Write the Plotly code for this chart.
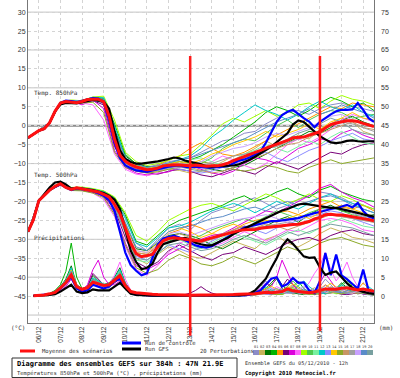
import plotly.graph_objects as go

# ---------------- time axes (hours from 05/12/2010 12h) ----------------
H6 = list(range(0, 385, 6))      # control / GFS / mean temperatures
H12 = list(range(0, 385, 12))    # perturbation temperatures
HP6 = list(range(6, 385, 6))     # precipitation series

DATE_LABELS = ["06/12", "07/12", "08/12", "09/12", "10/12", "11/12", "12/12", "13/12",
               "14/12", "15/12", "16/12", "17/12", "18/12", "19/12", "20/12", "21/12"]
DATE_HOURS = [12 + 24 * k for k in range(len(DATE_LABELS))]
MARK_HOURS = [180, 324]   # red vertical markers

# ---------------- 850 hPa ----------------
T850_MEAN = [-3.2,-2.3,-1.3,-0.8,0.8,3.8,6.0,6.4,6.3,6.1,6.4,6.9,7.0,7.0,6.3,
             2.5,-3.5,-7.8,-9.4,-10.3,-10.9,-11.3,-11.6,-11.5,-11.2,-10.6,-10.4,-10.3,-10.4,-10.5,-10.6,
             -10.4,-10.6,-10.7,-10.6,-10.6,-10.3,-9.9,-9.2,-8.7,-8.2,-7.6,-7.0,-6.5,-5.9,-5.4,-5.0,
             -4.4,-3.9,-3.2,-3.0,-3.0,-2.5,-2.1,-1.6,-0.6,0.3,0.7,1.0,1.3,1.3,1.1,0.6,0.2,-0.2]
T850_GFS = [-3.2,-2.3,-1.3,-0.8,0.8,3.8,5.6,6.0,5.9,5.9,6.2,6.6,6.8,6.6,6.4,
            4.5,-1.5,-6.5,-8.8,-9.6,-10.0,-10.0,-9.7,-9.6,-9.4,-9.2,-8.8,-8.4,-8.6,-9.2,-9.5,
            -9.7,-10.2,-10.7,-10.8,-10.7,-10.6,-10.5,-10.5,-10.2,-9.7,-9.0,-8.2,-7.2,-6.4,-5.5,-4.4,
            -3.2,-2.0,0.3,1.4,1.0,-0.2,-1.6,-2.8,-3.6,-4.4,-4.6,-4.4,-4.0,-3.9,-4.1,-4.2,-4.1,-4.1]
T850_CTRL = [-3.2,-2.3,-1.3,-0.8,0.8,3.8,6.0,6.6,6.5,6.2,6.5,7.0,7.3,7.2,6.0,
             1.5,-4.5,-8.5,-10.5,-11.2,-11.8,-12.0,-12.2,-11.8,-11.4,-11.0,-10.8,-10.6,-10.5,-10.8,-11.0,
             -10.8,-11.0,-11.1,-11.1,-11.0,-10.8,-10.7,-9.9,-9.2,-8.9,-8.4,-7.6,-6.8,-4.5,-1.8,1.0,
             2.8,3.7,4.2,3.0,2.0,1.1,-0.4,1.0,2.1,3.0,3.8,4.2,4.2,4.3,6.0,4.2,2.0,1.0]
T850_MEMBERS = [
    [-3.2,-1.2,0.9,5.8,6.6,6.2,7.3,6.8,-2.0,-9.0,-10.5,-11.0,-10.2,-9.5,-9.0,-8.5,-7.0,-5.5,-4.0,-3.5,-2.0,-1.5,0.5,2.0,3.5,4.0,3.0,4.5,5.5,6.0,5.0,4.5,3.8],
    [-3.1,-1.4,0.7,6.2,6.0,6.8,6.6,6.0,-4.5,-10.0,-11.5,-12.2,-12.0,-11.5,-11.8,-12.5,-12.0,-11.0,-9.5,-8.0,-7.5,-6.0,-4.0,-5.5,-4.0,-2.5,-3.5,-1.0,0.5,2.0,1.0,-1.5,-2.5],
    [-3.3,-1.2,0.9,6.1,6.4,6.0,7.2,6.9,-1.0,-8.0,-10.0,-10.8,-11.0,-10.0,-9.5,-9.8,-10.5,-11.5,-12.0,-11.0,-10.5,-9.0,-7.5,-6.0,-4.5,-3.0,-1.5,-2.0,-0.5,1.5,2.5,1.0,0.0],
    [-3.2,-1.3,0.8,5.9,6.5,6.6,7.5,7.2,0.5,-7.5,-10.2,-11.2,-11.5,-11.0,-10.2,-9.0,-8.0,-6.5,-5.0,-3.0,-1.0,1.0,3.5,5.0,4.0,2.5,4.0,6.0,7.5,6.5,5.0,6.0,4.0],
    [-3.2,-1.3,0.8,6.0,6.4,6.6,6.8,6.4,-3.0,-9.5,-10.8,-11.2,-10.5,-9.0,-8.0,-6.0,-4.5,-6.0,-7.5,-8.0,-7.0,-5.5,-4.0,-2.5,-1.0,0.5,2.0,3.5,5.0,4.5,6.0,5.5,5.0],
    [-3.2,-1.4,0.8,6.0,6.0,6.2,6.6,5.5,-5.5,-10.5,-12.0,-12.5,-12.8,-12.0,-11.5,-12.0,-13.0,-13.5,-12.5,-11.5,-12.0,-12.8,-11.0,-9.5,-10.5,-11.5,-10.0,-8.5,-7.0,-7.5,-6.0,-5.0,-4.5],
    [-3.2,-1.2,0.9,6.2,6.5,5.5,6.8,4.5,-6.5,-11.0,-12.5,-13.0,-12.6,-12.2,-11.0,-10.5,-11.5,-12.5,-13.0,-12.0,-10.0,-8.5,-9.0,-10.0,-8.0,-6.0,-5.0,-3.5,-4.0,-2.0,-1.0,-2.5,-3.5],
    [-3.2,-1.3,0.8,5.8,6.2,6.0,5.5,1.5,-7.5,-11.5,-12.8,-13.2,-12.5,-11.0,-10.0,-10.5,-11.0,-9.5,-8.0,-9.0,-10.5,-11.5,-10.0,-7.5,-5.0,-3.5,-4.5,-3.0,-1.0,1.5,3.0,2.0,1.0],
    [-3.2,-1.3,0.8,6.3,6.8,6.6,7.6,7.8,1.5,-7.0,-9.5,-10.5,-10.0,-9.2,-8.0,-7.5,-5.0,-2.5,0.5,2.0,1.0,2.5,4.0,2.5,3.5,5.5,6.0,4.5,6.5,8.0,7.0,6.5,5.5],
    [-3.2,-1.3,0.8,6.0,6.5,6.5,7.1,6.5,-2.5,-9.2,-10.8,-11.5,-11.2,-10.6,-10.8,-11.2,-10.0,-8.5,-6.0,-4.5,-3.5,-4.0,-2.0,0.0,1.5,-0.5,1.5,3.0,4.0,3.5,2.0,2.5,3.0],
    [-3.2,-1.3,0.8,6.1,6.3,6.4,6.9,6.2,-4.0,-9.8,-11.0,-11.8,-11.5,-10.8,-10.2,-9.0,-8.5,-9.5,-10.5,-9.0,-7.5,-6.5,-5.0,-6.0,-7.0,-5.5,-4.0,-5.0,-3.0,-1.5,-3.0,-4.5,-5.0],
    [-3.2,-1.2,0.9,6.1,6.5,6.7,7.5,7.4,0.0,-8.5,-10.5,-11.0,-10.8,-10.0,-9.0,-8.0,-6.0,-3.0,-1.0,1.5,3.5,5.5,4.0,3.0,1.5,3.0,5.0,6.5,5.0,4.0,5.5,3.5,2.5],
    [-3.2,-1.3,0.8,6.0,6.2,6.2,6.7,6.0,-4.5,-10.2,-11.5,-12.0,-11.8,-11.2,-11.5,-12.0,-12.5,-12.0,-11.0,-10.0,-9.0,-8.0,-7.0,-8.5,-9.5,-8.0,-6.5,-5.5,-4.0,-3.0,-2.0,-3.5,-4.0],
    [-3.2,-1.3,0.8,5.9,6.3,6.5,7.0,6.6,-3.0,-9.0,-10.5,-11.2,-10.8,-10.0,-9.5,-10.0,-9.0,-7.5,-6.5,-5.0,-4.0,-3.0,-1.5,-3.0,-2.0,-1.0,0.5,-1.0,1.0,2.0,3.5,2.0,1.5],
    [-3.2,-1.3,0.8,6.0,6.1,6.0,6.2,3.5,-7.0,-11.0,-12.0,-12.5,-12.2,-11.5,-11.0,-10.5,-9.5,-10.0,-11.0,-11.5,-12.0,-11.5,-10.5,-11.0,-12.0,-12.5,-11.0,-10.0,-9.0,-10.0,-9.5,-9.0,-8.5],
    [-3.2,-1.3,0.8,6.0,6.4,6.3,6.9,6.3,-3.5,-9.4,-11.0,-11.6,-11.0,-10.2,-10.5,-11.0,-11.8,-12.5,-12.0,-11.0,-9.5,-8.5,-7.5,-6.0,-5.0,-4.5,-3.0,-2.0,-1.0,0.0,1.0,-0.5,-1.0],
    [-3.2,-1.3,0.8,6.0,6.3,6.5,7.0,6.5,-3.0,-9.2,-10.8,-11.4,-11.2,-10.5,-10.0,-10.2,-10.5,-10.0,-9.0,-8.0,-7.5,-7.0,-6.0,-5.5,-4.5,-3.5,-2.5,-1.5,0.0,1.0,0.5,-0.5,-1.5],
    [-3.2,-1.3,0.8,6.0,6.2,6.4,7.1,6.4,-4.0,-10.0,-11.2,-12.0,-11.6,-11.0,-11.2,-10.8,-9.5,-8.0,-7.0,-6.0,-5.5,-4.5,-3.0,-2.0,-2.5,-1.5,-0.5,1.0,2.5,3.0,1.5,0.5,0.0],
    [-3.2,-1.3,0.8,6.0,6.5,6.6,7.2,7.0,-1.5,-8.5,-10.2,-11.0,-10.6,-9.8,-9.0,-8.5,-7.5,-6.5,-5.5,-4.5,-3.5,-2.0,-0.5,1.0,2.0,3.0,4.5,3.0,4.0,5.5,4.5,3.5,2.0],
    [-3.2,-1.3,0.8,6.0,6.3,6.3,6.8,6.1,-4.5,-10.0,-11.4,-12.0,-11.8,-11.0,-10.8,-11.5,-12.0,-11.5,-10.0,-9.5,-8.5,-7.5,-6.5,-5.0,-3.5,-2.0,-1.0,0.5,2.0,1.0,-1.0,-2.0,-2.5],
]

# ---------------- 500 hPa ----------------
T500_MEAN = [-28.0,-24.8,-19.8,-18.3,-17.0,-16.0,-15.3,-16.3,-16.8,-16.4,-16.7,-16.9,-17.2,-17.5,-18.1,
             -18.8,-20.8,-23.2,-27.0,-31.0,-33.8,-34.6,-34.3,-34.0,-32.0,-30.4,-29.8,-29.6,-29.8,-30.0,-30.1,
             -30.4,-30.5,-30.0,-29.6,-29.2,-28.9,-28.6,-28.0,-27.7,-27.5,-27.4,-27.4,-27.1,-26.9,-26.7,-26.5,
             -26.4,-26.2,-26.1,-26.0,-25.7,-25.3,-24.6,-24.2,-23.5,-23.4,-23.6,-23.6,-23.8,-24.0,-24.2,-24.5,-24.8,-25.1]
T500_GFS = [-28.0,-24.8,-19.8,-18.0,-16.3,-15.0,-14.8,-15.5,-16.6,-16.4,-16.5,-16.8,-17.0,-17.3,-17.8,
            -18.5,-19.5,-22.0,-27.5,-33.0,-36.0,-37.9,-37.5,-36.5,-33.4,-31.3,-30.8,-30.4,-30.0,-29.6,-30.0,
            -30.9,-31.3,-31.6,-31.6,-30.9,-30.3,-29.6,-28.6,-27.8,-27.2,-26.5,-25.8,-25.2,-24.4,-23.7,-23.0,
            -22.4,-22.0,-21.3,-20.8,-20.6,-20.8,-21.1,-21.3,-21.5,-21.7,-21.7,-22.0,-22.3,-22.6,-23.0,-23.4,-23.7,-24.0]
T500_CTRL = [-28.0,-24.8,-19.8,-18.3,-17.0,-16.2,-15.5,-16.3,-17.0,-16.5,-16.8,-17.0,-17.3,-17.8,-18.5,
             -19.6,-22.5,-28.0,-33.5,-36.8,-38.3,-39.5,-39.0,-35.0,-31.3,-29.8,-29.3,-29.0,-29.5,-30.2,-30.8,
             -31.6,-32.0,-32.2,-31.8,-31.0,-30.2,-29.4,-28.7,-27.8,-26.9,-26.6,-26.3,-26.0,-25.5,-25.2,-25.2,
             -25.0,-24.7,-24.6,-24.4,-23.9,-23.4,-23.1,-22.8,-22.3,-22.0,-21.8,-21.3,-20.9,-21.6,-20.4,-22.5,-23.9,-24.5]
T500_MEMBERS = [
    [-28.0,-19.6,-16.8,-15.0,-16.5,-16.3,-16.8,-17.5,-19.5,-24.0,-31.0,-33.0,-30.0,-27.0,-26.0,-27.5,-25.0,-23.0,-22.0,-21.5,-20.0,-19.0,-20.5,-22.0,-21.0,-19.5,-18.5,-17.5,-18.0,-19.0,-20.5,-21.0,-22.0],
    [-28.0,-19.9,-17.2,-15.5,-17.0,-17.0,-17.5,-18.5,-21.5,-28.0,-35.0,-36.5,-34.0,-32.0,-33.0,-34.5,-35.0,-33.5,-32.0,-30.5,-31.5,-32.5,-30.0,-29.0,-31.0,-32.0,-30.5,-28.5,-27.0,-28.0,-29.5,-30.0,-31.0],
    [-28.0,-19.8,-17.0,-15.3,-16.6,-16.5,-17.0,-17.8,-20.0,-26.0,-32.5,-33.0,-31.0,-29.0,-28.5,-29.0,-30.0,-31.5,-32.5,-31.0,-29.5,-28.0,-26.5,-25.0,-24.0,-25.5,-23.5,-22.0,-21.0,-22.5,-23.0,-24.0,-23.5],
    [-28.0,-19.7,-16.9,-15.1,-16.4,-16.6,-16.9,-17.3,-19.0,-23.5,-30.5,-31.5,-29.0,-26.5,-25.0,-24.0,-23.0,-22.0,-21.0,-19.5,-18.5,-20.0,-19.0,-17.5,-16.5,-18.0,-19.0,-17.0,-16.0,-17.5,-18.5,-19.5,-20.0],
    [-28.0,-19.8,-17.0,-15.4,-16.8,-16.8,-17.3,-18.0,-20.5,-27.0,-33.5,-34.0,-31.5,-28.5,-27.5,-26.0,-27.0,-28.5,-29.0,-27.5,-26.0,-25.0,-24.5,-23.0,-22.5,-23.5,-22.0,-21.0,-20.0,-21.5,-22.0,-21.0,-22.5],
    [-28.0,-19.9,-17.1,-15.6,-17.0,-17.1,-17.6,-18.6,-22.0,-29.5,-36.0,-37.5,-36.0,-33.0,-31.5,-33.0,-34.5,-35.5,-34.0,-33.5,-32.0,-33.0,-34.0,-32.5,-31.0,-30.0,-29.5,-30.5,-29.0,-28.0,-27.5,-28.5,-29.0],
    [-28.0,-19.8,-17.0,-15.4,-16.9,-17.0,-17.4,-18.8,-23.0,-31.0,-37.0,-38.0,-36.5,-34.0,-32.5,-31.0,-30.0,-29.0,-28.5,-27.0,-25.5,-24.0,-22.5,-23.0,-21.5,-20.0,-18.5,-16.5,-15.5,-17.5,-19.0,-20.0,-21.5],
    [-28.0,-19.7,-16.9,-15.2,-16.7,-16.9,-17.8,-19.5,-24.0,-32.0,-38.0,-39.5,-37.0,-33.5,-31.0,-30.0,-31.5,-32.0,-31.0,-29.5,-28.0,-29.0,-30.5,-29.0,-27.5,-28.0,-26.5,-25.0,-24.5,-25.0,-26.0,-27.5,-28.0],
    [-28.0,-19.6,-16.7,-14.9,-16.3,-16.2,-16.6,-17.2,-18.8,-23.0,-29.0,-30.5,-28.0,-25.0,-23.5,-22.0,-21.0,-20.5,-21.5,-22.5,-21.0,-19.5,-18.0,-19.0,-20.5,-19.5,-18.0,-19.5,-20.0,-18.5,-19.5,-21.0,-22.0],
    [-28.0,-19.8,-17.0,-15.3,-16.8,-16.7,-17.1,-18.0,-20.6,-27.0,-34.0,-34.5,-32.5,-30.5,-29.5,-30.0,-29.0,-27.5,-26.5,-25.5,-24.5,-25.5,-24.0,-22.5,-23.5,-24.5,-23.0,-22.0,-21.5,-22.5,-23.5,-24.0,-25.0],
    [-28.0,-19.9,-17.1,-15.5,-16.9,-16.9,-17.4,-18.3,-21.0,-28.5,-35.5,-36.0,-34.0,-31.0,-30.0,-31.5,-32.5,-31.0,-29.5,-28.5,-29.5,-30.5,-31.5,-30.0,-28.5,-27.5,-28.5,-27.0,-25.5,-24.5,-25.5,-26.5,-27.0],
    [-28.0,-19.6,-16.8,-15.0,-16.4,-16.4,-16.8,-17.4,-19.2,-24.5,-31.0,-32.0,-29.5,-27.0,-26.5,-25.5,-24.0,-22.5,-21.5,-20.5,-21.5,-23.0,-21.5,-20.0,-21.0,-22.0,-20.5,-19.0,-18.0,-19.5,-20.5,-22.0,-23.0],
    [-28.0,-19.8,-17.0,-15.3,-16.8,-16.8,-17.3,-18.2,-20.8,-27.5,-34.5,-35.5,-33.5,-31.5,-32.5,-33.5,-32.0,-30.5,-29.0,-27.5,-26.5,-27.5,-28.5,-27.0,-26.0,-25.0,-24.0,-23.5,-22.5,-23.0,-24.5,-25.5,-26.5],
    [-28.0,-19.7,-16.9,-15.2,-16.6,-16.6,-17.0,-17.7,-20.0,-26.0,-33.0,-33.5,-31.0,-28.0,-27.0,-28.0,-29.5,-28.5,-27.0,-26.0,-27.0,-26.0,-25.0,-25.5,-24.5,-23.5,-24.5,-23.0,-22.0,-21.0,-22.0,-23.0,-24.0],
    [-28.0,-19.9,-17.2,-15.6,-17.1,-17.2,-17.8,-19.0,-23.5,-31.5,-37.5,-39.0,-38.0,-35.5,-34.0,-35.0,-36.5,-37.0,-36.0,-34.5,-35.5,-36.5,-35.0,-33.5,-32.0,-33.0,-32.5,-31.0,-30.0,-29.5,-30.5,-31.5,-32.0],
    [-28.0,-19.8,-17.0,-15.4,-16.9,-16.8,-17.2,-18.1,-20.5,-27.0,-33.5,-34.0,-32.0,-29.5,-28.5,-29.5,-30.5,-29.5,-28.5,-27.5,-26.5,-27.0,-26.0,-26.5,-27.5,-26.5,-25.5,-24.5,-23.5,-24.0,-24.5,-25.0,-25.5],
    [-28.0,-19.8,-17.0,-15.3,-16.8,-16.7,-17.2,-18.0,-20.7,-27.2,-34.0,-34.8,-32.5,-30.0,-29.5,-30.5,-31.0,-30.0,-29.0,-28.0,-27.5,-27.0,-26.5,-26.0,-25.5,-26.0,-25.0,-24.0,-23.5,-24.0,-24.5,-25.0,-25.5],
    [-28.0,-19.8,-17.0,-15.3,-16.7,-16.7,-17.1,-17.9,-20.4,-26.5,-33.0,-33.5,-31.5,-28.5,-28.0,-29.0,-28.0,-27.0,-26.0,-25.0,-24.5,-24.0,-23.5,-24.5,-25.5,-24.5,-23.5,-22.5,-21.5,-22.0,-23.0,-24.0,-24.5],
    [-28.0,-19.7,-16.9,-15.2,-16.6,-16.5,-17.0,-17.6,-19.8,-25.5,-32.0,-33.0,-30.5,-28.0,-27.0,-26.5,-25.5,-24.5,-24.0,-23.0,-22.0,-21.5,-22.5,-21.0,-20.0,-21.0,-20.0,-19.0,-18.5,-19.5,-21.0,-22.0,-23.0],
    [-28.0,-19.9,-17.1,-15.4,-16.9,-16.9,-17.4,-18.4,-21.5,-28.5,-35.0,-35.5,-33.5,-31.5,-31.0,-32.0,-33.0,-32.5,-31.5,-30.0,-29.0,-30.0,-31.0,-29.5,-28.0,-29.0,-28.0,-27.0,-26.0,-26.5,-27.0,-28.0,-29.0],
]

# ---------------- precipitation (mm, right axis) ----------------
PR_MEAN = [0.1,0.2,0.3,0.6,1.0,2.2,3.6,5.6,2.5,1.8, 2.2,3.7,3.2,2.8,3.0,4.2,5.4,2.8,1.2,0.9,
           0.7,0.6,0.5,0.4,0.4,0.3,0.3,0.3,0.3,0.2, 0.3,0.3,0.3,0.3,0.4,0.4,0.4,0.4,0.5,0.5,
           0.5,0.6,0.8,1.0,0.9,1.0,1.2,1.9,1.4,1.2, 1.0,0.9,1.1,1.4,1.9,1.8,1.8,2.1,2.2,1.9, 1.6,1.9,1.6,1.3]
PR_GFS = [0.1,0.1,0.2,0.3,0.5,1.2,2.2,3.0,1.2,0.8, 1.0,1.8,1.5,1.5,1.5,2.5,3.5,2.0,0.6,0.3,
          0.2,0.2,0.1,0.1,0.1,0.1,0.1,0.1,0.1,0.1, 0.1,0.1,0.2,0.1,0.1,0.1,0.1,0.1,0.2,0.3,
          0.7,1.5,3.2,4.6,7.4,10.0,13.2,15.0,13.8,12.2, 10.5,10.1,10.2,7.6,5.6,6.2,6.5,5.0,3.4,2.1, 1.5,1.1,0.8,0.6]
PR_CTRL = [0.1,0.2,0.3,0.5,0.8,2.0,3.5,5.0,2.0,1.2, 1.5,3.0,2.5,2.0,2.5,4.0,4.5,2.2,0.8,0.4,
           0.3,0.2,0.2,0.2,0.2,0.2,0.1,0.1,0.1,0.1, 0.1,0.1,0.1,0.2,0.2,0.2,0.2,0.2,0.2,0.2,
           0.4,0.8,1.5,3.0,4.6,5.0,2.5,3.2,4.8,3.5, 3.6,1.5,0.8,4.0,11.4,5.5,11.0,5.5,4.5,3.2, 2.0,7.0,1.5,1.0]
PR_MEMBERS = [
    [0.1,0.2,0.3,0.5,0.9,2.0,3.5,6.0,2.5,1.5, 2.0,4.0,3.0,2.5,2.0,4.5,6.0,3.0,1.0,0.5, 0.3,0.2,0.2,0.1,0.1,0.1,0.2,0.3,0.2,0.1, 0.1,0.2,0.3,0.2,0.1,0.2,0.4,0.6,0.3,0.2, 0.5,1.0,2.5,4.0,2.0,1.0,0.5,1.5,3.0,2.0, 1.0,0.5,0.8,2.5,4.5,3.0,1.5,0.8,1.2,2.0, 1.0,0.5,0.3,0.2],
    [0.1,0.1,0.2,0.4,0.8,1.8,3.0,5.0,2.0,1.0, 1.5,3.5,2.5,2.0,2.5,3.5,5.0,2.5,0.8,0.4, 0.2,0.2,0.1,0.1,0.1,0.0,0.1,0.1,0.1,0.1, 0.2,0.1,0.1,0.2,0.3,0.2,0.1,0.1,0.2,0.3, 0.2,0.5,0.8,0.5,0.3,1.0,2.0,1.2,0.5,0.8, 1.5,0.8,0.4,0.6,1.5,2.5,1.8,0.9,0.5,1.0, 2.5,1.5,0.6,0.3],
    [0.1,0.2,0.4,0.6,1.2,2.5,4.5,8.0,3.0,2.0, 2.5,5.5,4.0,3.0,3.5,5.0,7.5,3.5,1.5,0.6, 0.4,0.3,0.2,0.2,0.1,0.1,0.1,0.2,0.1,0.1, 0.1,0.1,0.2,0.2,0.1,0.1,0.2,0.3,0.5,0.4, 0.3,0.6,1.2,2.0,3.5,5.0,3.0,1.5,0.8,0.5, 0.4,0.8,1.5,1.0,0.6,0.9,2.0,3.5,2.2,1.0, 0.6,0.8,1.2,0.7],
    [0.1,0.2,0.3,0.7,1.5,3.0,6.5,14.0,5.0,2.0, 2.0,4.5,3.5,2.5,2.5,4.0,6.5,3.0,1.0,0.5, 0.3,0.2,0.1,0.1,0.1,0.1,0.1,0.1,0.2,0.2, 0.1,0.1,0.1,0.2,0.2,0.3,0.2,0.1,0.1,0.2, 0.4,0.8,0.5,1.5,3.0,4.5,2.0,1.0,2.5,4.0, 2.0,1.0,0.8,0.5,1.0,2.0,1.5,3.0,4.5,2.5, 1.2,0.8,0.5,0.3],
    [0.1,0.1,0.3,0.5,1.0,2.2,3.8,6.5,2.8,1.8, 2.2,4.0,3.5,3.0,3.0,4.5,5.5,2.5,1.0,0.5, 0.3,0.2,0.2,0.1,0.1,0.2,0.3,0.2,0.1,0.1, 0.2,0.3,0.2,0.1,0.1,0.2,0.3,0.2,0.2,0.4, 0.8,1.5,1.0,0.6,0.4,0.8,1.5,2.5,1.8,1.0, 0.6,0.5,1.0,1.8,3.0,2.0,1.2,0.8,1.5,2.5, 1.8,3.5,2.0,1.0],
    [0.1,0.2,0.3,0.6,1.0,2.0,3.2,5.5,2.2,1.2, 2.5,6.0,4.5,3.0,2.5,3.5,4.5,2.0,0.8,0.4, 0.2,0.1,0.1,0.1,0.1,0.1,0.1,0.2,0.4,0.8, 1.5,2.5,1.5,0.8,0.4,0.2,0.1,0.1,0.2,0.2, 0.3,0.5,1.0,1.8,1.2,0.8,2.5,4.5,3.0,1.5, 0.8,0.6,0.4,1.0,2.0,1.5,0.8,0.5,0.4,0.6, 1.0,0.6,0.4,0.3],
    [0.1,0.1,0.2,0.4,0.7,1.5,2.5,4.5,2.0,1.5, 3.0,7.0,9.5,5.0,3.0,3.0,4.0,2.0,0.7,0.3, 0.2,0.1,0.1,0.1,0.1,0.1,0.1,0.1,0.1,0.1, 0.1,0.1,0.2,0.2,0.1,0.1,0.2,0.3,0.2,0.3, 0.6,1.0,2.0,3.5,2.5,5.0,9.5,6.0,3.0,1.5, 1.0,0.8,1.5,3.5,6.0,4.0,2.0,1.0,0.8,1.2, 0.9,0.6,0.5,0.4],
    [0.1,0.2,0.3,0.5,0.9,1.8,3.0,5.5,2.5,1.5, 2.0,4.0,3.0,2.5,3.0,5.5,9.0,4.5,1.5,0.6, 0.3,0.2,0.1,0.1,0.1,0.1,0.1,0.1,0.1,0.1, 0.1,0.2,0.2,0.1,0.1,0.1,0.1,0.2,0.2,0.2, 0.3,0.4,0.6,1.0,1.5,2.5,1.8,1.0,0.8,1.2, 2.0,3.5,6.0,8.0,11.5,7.0,4.0,6.0,9.0,5.0, 2.5,1.5,1.0,0.6],
    [0.1,0.2,0.3,0.6,1.1,2.4,4.0,7.0,3.0,1.8, 2.0,4.5,3.8,3.0,2.5,4.0,6.0,3.0,1.2,0.5, 0.3,0.2,0.2,0.1,0.1,0.1,0.1,0.1,0.1,0.1, 0.1,0.1,0.1,0.1,0.2,0.2,0.1,0.1,0.1,0.2, 0.3,0.5,0.8,1.2,0.8,0.5,0.4,1.0,2.0,1.2, 0.6,0.4,0.5,0.8,1.5,1.0,0.6,0.8,1.5,3.5, 2.0,1.0,0.6,0.4],
    [0.1,0.1,0.2,0.5,0.9,2.0,3.5,6.0,2.4,1.4, 1.8,3.8,3.2,2.6,2.8,4.2,5.5,2.6,1.0,0.5, 0.3,0.2,0.1,0.1,0.1,0.1,0.1,0.2,0.2,0.1, 0.1,0.1,0.1,0.2,0.2,0.1,0.1,0.2,0.3,0.4, 0.6,1.5,3.0,2.0,1.2,0.8,1.5,2.5,4.0,2.5, 1.5,0.8,0.6,1.2,2.0,1.5,1.0,2.5,4.0,2.0, 1.0,0.7,0.5,0.4],
    [0.1,0.2,0.3,0.5,1.0,2.1,3.6,6.2,2.6,1.6, 2.0,4.2,3.4,2.8,3.0,4.5,6.5,3.2,1.2,0.5, 0.3,0.2,0.2,0.1,0.1,0.1,0.1,0.1,0.1,0.1, 0.1,0.2,0.2,0.1,0.1,0.1,0.2,0.2,0.3,0.2, 0.2,0.4,0.6,0.9,1.4,1.0,0.7,1.2,2.0,1.6, 1.0,0.7,1.3,2.5,1.8,1.0,0.8,1.6,2.8,1.8, 1.1,0.7,0.5,0.3],
    [0.1,0.2,0.4,0.7,1.3,2.6,4.2,7.5,3.0,1.9, 2.3,4.8,4.0,3.2,3.2,4.8,7.0,3.5,1.3,0.6, 0.3,0.3,0.2,0.2,0.2,0.1,0.1,0.1,0.1,0.2, 0.3,0.2,0.1,0.1,0.1,0.2,0.2,0.1,0.1,0.2, 0.4,0.9,1.6,2.4,1.6,0.9,0.6,0.8,1.4,2.6, 4.0,2.5,1.5,0.9,0.6,0.9,1.8,3.0,2.0,1.2, 0.8,1.6,2.5,1.4],
    [0.1,0.1,0.2,0.4,0.8,1.7,3.0,5.2,2.2,1.3, 1.7,3.6,3.0,2.4,2.6,3.8,5.2,2.4,0.9,0.4, 0.2,0.2,0.1,0.1,0.1,0.1,0.1,0.1,0.1,0.1, 0.1,0.1,0.1,0.1,0.1,0.1,0.1,0.1,0.2,0.2, 0.3,0.5,0.7,0.5,0.4,0.6,1.0,1.8,1.2,0.8, 0.6,0.5,0.9,1.6,2.8,2.0,1.2,0.8,0.6,0.9, 1.4,0.9,0.6,0.4],
    [0.1,0.2,0.3,0.5,1.0,2.3,3.9,6.8,2.9,1.7, 2.1,4.3,3.6,2.9,2.7,4.1,5.8,2.8,1.1,0.5, 0.3,0.2,0.2,0.1,0.1,0.1,0.1,0.1,0.1,0.1, 0.1,0.1,0.1,0.1,0.2,0.2,0.3,0.2,0.2,0.3, 0.5,0.8,1.2,1.8,2.6,1.8,1.2,2.0,3.2,2.2, 1.4,1.0,0.8,1.3,2.2,3.4,2.4,1.5,1.0,0.8, 1.2,2.0,1.4,0.8],
    [0.1,0.2,0.3,0.6,1.1,2.2,3.6,6.0,2.6,1.5, 1.9,4.0,3.3,2.7,2.9,4.4,6.2,3.0,1.1,0.5, 0.3,0.2,0.2,0.1,0.1,0.1,0.1,0.1,0.1,0.1, 0.1,0.1,0.2,0.2,0.2,0.1,0.1,0.1,0.1,0.2, 0.2,0.3,0.5,0.8,0.6,0.4,0.5,0.9,1.5,1.0, 0.7,0.5,0.6,1.0,1.6,1.1,0.8,0.6,0.9,1.4, 1.0,0.7,0.5,0.3],
    [0.1,0.1,0.3,0.5,0.9,2.0,3.4,5.8,2.5,1.5, 1.9,3.9,3.2,2.6,2.8,4.0,5.6,2.7,1.0,0.5, 0.3,0.2,0.1,0.1,0.1,0.1,0.1,0.1,0.1,0.1, 0.1,0.1,0.1,0.1,0.1,0.1,0.2,0.2,0.1,0.1, 0.2,0.4,0.9,1.5,1.0,0.7,1.0,1.6,2.4,1.5, 0.9,1.4,2.2,1.5,0.9,0.7,1.2,2.0,1.4,0.9, 0.7,1.1,0.8,0.5],
    [0.1,0.2,0.3,0.5,1.0,2.1,3.5,6.1,2.6,1.6, 2.0,4.1,3.4,2.8,2.9,4.3,6.0,2.9,1.1,0.5, 0.3,0.2,0.1,0.1,0.1,0.1,0.1,0.1,0.1,0.1, 0.1,0.1,0.1,0.1,0.1,0.1,0.1,0.1,0.1,0.2, 0.2,0.3,0.4,0.6,0.8,1.1,0.9,0.7,1.0,1.3, 0.9,0.7,0.8,1.2,1.8,1.3,1.0,1.4,2.0,1.5, 1.0,0.8,0.6,0.4],
    [0.1,0.2,0.3,0.5,0.9,1.9,3.3,5.6,2.4,1.4, 1.8,3.7,3.1,2.5,2.7,4.0,5.4,2.6,1.0,0.4, 0.2,0.2,0.1,0.1,0.1,0.1,0.1,0.1,0.1,0.1, 0.1,0.1,0.1,0.1,0.1,0.1,0.1,0.2,0.2,0.2, 0.3,0.6,1.0,1.6,2.2,1.5,1.0,0.7,0.9,1.6, 2.6,1.8,1.1,0.8,1.0,1.6,2.4,1.7,1.1,0.8, 1.3,2.1,1.5,0.9],
    [0.1,0.2,0.3,0.6,1.1,2.3,3.8,6.6,2.8,1.7, 2.1,4.4,3.7,3.0,2.8,4.2,6.0,2.9,1.1,0.5, 0.3,0.2,0.2,0.1,0.1,0.1,0.1,0.1,0.1,0.1, 0.1,0.1,0.1,0.2,0.2,0.1,0.1,0.1,0.2,0.3, 0.4,0.7,1.1,0.8,0.6,1.1,1.9,1.3,0.8,1.2, 1.9,1.3,0.9,0.7,1.1,1.8,1.2,0.9,1.4,2.2, 1.5,1.0,0.7,0.5],
    [0.1,0.1,0.2,0.4,0.8,1.8,3.1,5.4,2.3,1.4, 1.8,3.7,3.0,2.5,2.7,3.9,5.4,2.6,1.0,0.4, 0.2,0.2,0.1,0.1,0.1,0.1,0.1,0.1,0.1,0.1, 0.1,0.1,0.1,0.1,0.1,0.1,0.1,0.1,0.1,0.2, 0.2,0.4,0.6,1.0,1.4,2.0,1.4,0.9,0.7,1.0, 1.5,1.1,0.8,1.0,1.5,2.3,1.6,1.1,0.8,1.1, 1.6,1.1,0.8,0.5],
]

MEMBER_COLORS = ["#8c8cc8", "#c8b45a", "#007800", "#00b400", "#ff9600", "#780078", "#dc00dc", "#ff64ff",
                 "#a0ff00", "#50c850", "#78f0a0", "#00c8c8", "#8c8cff", "#ffc800", "#8caa28", "#c89664",
                 "#a0a0a0", "#c8a0ff", "#5a8cc8", "#78a0a0"]
MEMBER_LABELS = ["%02d" % (i + 1) for i in range(20)]

Y_LEFT = [-52.1, 33.2]
Y_RIGHT = [Y_LEFT[0] + 45, Y_LEFT[1] + 45]

# ---------------- figure ----------------
fig = go.Figure()
for i in range(20):
    c = MEMBER_COLORS[i]
    fig.add_trace(go.Scatter(x=H12, y=T850_MEMBERS[i], mode="lines", line=dict(color=c, width=1), hoverinfo="skip"))
    fig.add_trace(go.Scatter(x=H12, y=T500_MEMBERS[i], mode="lines", line=dict(color=c, width=1), hoverinfo="skip"))
    fig.add_trace(go.Scatter(x=HP6, y=PR_MEMBERS[i], yaxis="y2", mode="lines", line=dict(color=c, width=1), hoverinfo="skip"))

for ys, ax in ((T850_CTRL, "y"), (T500_CTRL, "y"), (PR_CTRL, "y2")):
    xs = HP6 if ax == "y2" else H6
    fig.add_trace(go.Scatter(x=xs, y=ys, yaxis=ax, mode="lines", line=dict(color="#0000ff", width=2.2)))
for ys, ax in ((T850_GFS, "y"), (T500_GFS, "y"), (PR_GFS, "y2")):
    xs = HP6 if ax == "y2" else H6
    fig.add_trace(go.Scatter(x=xs, y=ys, yaxis=ax, mode="lines", line=dict(color="#000000", width=2.2)))
for ys, ax in ((T850_MEAN, "y"), (T500_MEAN, "y"), (PR_MEAN, "y2")):
    xs = HP6 if ax == "y2" else H6
    fig.add_trace(go.Scatter(x=xs, y=ys, yaxis=ax, mode="lines", line=dict(color="#ff1010", width=3)))

# geometry helpers (pixel -> paper) for decorations outside the data
L, R, T, B = 28, 26, 0, 55
W, HP = 400 - L - R, 378 - T - B
def px(x):
    return (x - L) / W
def py(y):
    return (378 - B - y) / HP
def vpaper(v):
    return (v - Y_LEFT[0]) / (Y_LEFT[1] - Y_LEFT[0])

shapes = []
for v in range(-50, 31, 10):
    shapes.append(dict(type="line", xref="paper", yref="y", x0=0, x1=1, y0=v, y1=v,
                       line=dict(color="#c4c4c4", width=1), layer="below"))
shapes.append(dict(type="line", xref="paper", yref="y", x0=0, x1=1, y0=0, y1=0,
                   line=dict(color="#8c8c8c", width=2), layer="below"))
for h, bottom in zip(MARK_HOURS, (-55.5, -54.2)):
    shapes.append(dict(type="line", xref="x", yref="paper", x0=h, x1=h, y0=vpaper(bottom), y1=vpaper(18.4),
                       line=dict(color="#ff1a1a", width=2.5)))
# legend swatches
shapes.append(dict(type="line", xref="paper", yref="paper", x0=px(20), x1=px(35), y0=py(351), y1=py(351),
                   line=dict(color="#ff1010", width=3)))
shapes.append(dict(type="line", xref="paper", yref="paper", x0=px(122), x1=px(141), y0=py(343), y1=py(343),
                   line=dict(color="#0000ff", width=3)))
shapes.append(dict(type="line", xref="paper", yref="paper", x0=px(122), x1=px(141), y0=py(349), y1=py(349),
                   line=dict(color="#000000", width=3)))
for i, c in enumerate(MEMBER_COLORS):
    shapes.append(dict(type="rect", xref="paper", yref="paper", x0=px(253 + 6 * i), x1=px(259 + 6 * i),
                       y0=py(355), y1=py(350), fillcolor=c, line=dict(width=0)))
shapes.append(dict(type="rect", xref="paper", yref="paper", x0=px(12), x1=px(237), y0=py(377.5), y1=py(358),
                   line=dict(color="#333333", width=1), fillcolor="rgba(0,0,0,0)"))

MONO = "DejaVu Sans Mono"
def txt(x, y, s, size=6, anchor="left", bold=False, color="#333333"):
    return dict(xref="paper", yref="paper", x=px(x), y=py(y), text=("<b>%s</b>" % s) if bold else s,
                showarrow=False, xanchor=anchor, yanchor="middle",
                font=dict(family=MONO, size=size, color=color))

ann = [
    txt(32, 93, "Temp. 850hPa"),
    txt(32, 175, "Temp. 500hPa"),
    txt(32, 238, "Précipitations"),
    txt(18, 327, "(°C)", anchor="center"),
    txt(386, 327, "(mm)", anchor="center"),
    txt(40, 351, "Moyenne des scénarios", size=5.6),
    txt(143, 343, "Run de contrôle", size=5.6),
    txt(143, 349, "Run GFS", size=5.6),
    txt(198, 351, "20 Perturbations", size=5.6),
    txt(15, 364, "Diagramme des ensembles GEFS sur 384h : 47N 21.9E", size=7, bold=True, color="#000000"),
    txt(15, 373, "Températures 850hPa et 500hPa (°C) , précipitations (mm)", size=5.5),
    txt(243, 363, "Ensemble GEFS du 05/12/2010 - 12h", size=5.2),
    txt(243, 373, "Copyright 2010 Meteociel.fr", size=5.6, bold=True, color="#000000"),
]
for i, lab in enumerate(MEMBER_LABELS):
    ann.append(txt(256 + 6 * i, 346.5, lab, size=3.6, anchor="center"))

fig.update_layout(
    width=400, height=378, margin=dict(l=L, r=R, t=T, b=B),
    paper_bgcolor="white", plot_bgcolor="white", showlegend=False, hovermode=False,
    font=dict(family="Liberation Sans", size=7, color="#333333"),
    xaxis=dict(range=[0, 384], tickmode="array", tickvals=DATE_HOURS, ticktext=DATE_LABELS,
               tickangle=-90, tickfont=dict(size=6.5), showgrid=True, gridcolor="#d4d4d4", griddash="dot",
               zeroline=False, showline=True, linecolor="#777777", mirror=True, ticks=""),
    yaxis=dict(range=Y_LEFT, tickmode="array", tickvals=list(range(-45, 31, 5)), showgrid=True,
               gridcolor="#d4d4d4", griddash="dot", zeroline=False, showline=True, linecolor="#777777",
               mirror=True, ticks="", tickfont=dict(size=7)),
    yaxis2=dict(range=Y_RIGHT, overlaying="y", side="right", tickmode="array", tickvals=list(range(0, 76, 5)),
                showgrid=False, zeroline=False, ticks="", ticklabelstandoff=6, tickfont=dict(size=7)),
    shapes=shapes, annotations=ann,
)
fig.write_html("out.html", config={"displayModeBar": False, "staticPlot": True},
               post_script="document.body.style.margin='0';document.body.style.overflow='hidden';")
